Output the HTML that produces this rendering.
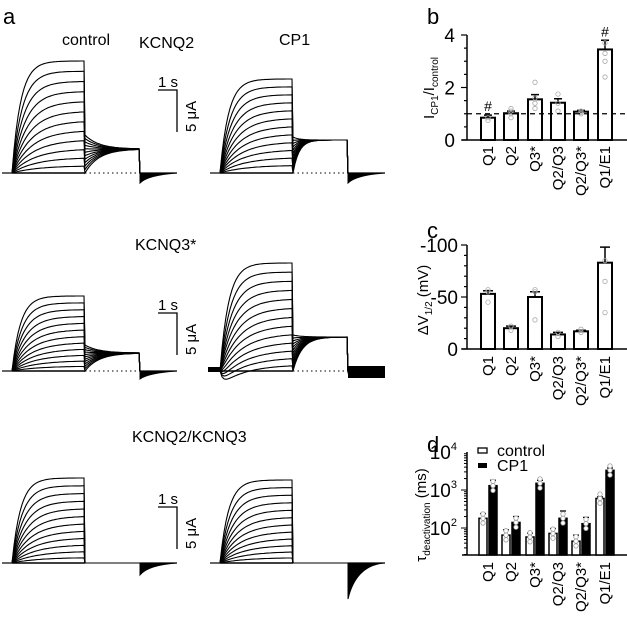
<!DOCTYPE html>
<html><head><meta charset="utf-8"><style>
body{margin:0;background:#fff}
svg{display:block;font-family:"Liberation Sans",sans-serif}
</style></head><body>
<svg id="fig" width="627" height="621" viewBox="0 0 627 621">
<g id="traces"></g>
<g font-size="16" fill="#000">
<text x="3" y="24" font-size="22">a</text>
<text x="62" y="45">control</text>
<text x="139" y="48">KCNQ2</text>
<text x="279" y="45">CP1</text>
<text x="135" y="250">KCNQ3*</text>
<text x="132" y="442">KCNQ2/KCNQ3</text>
<text x="427" y="24" font-size="22">b</text>
<text x="427" y="238" font-size="22">c</text>
<text x="427" y="452" font-size="22">d</text>
</g>
<g id="scalebars"></g>
<g id="pb"></g>
<g id="pc"></g>
<g id="pd"></g>
</svg>
<script>
const categories=["Q1","Q2","Q3*","Q2/Q3","Q2/Q3*","Q1/E1"];
const ratioValues=[0.85,1.02,1.55,1.42,1.08,3.45];
const ratioErr=[0.1,0.08,0.18,0.15,0.05,0.35];
const ratioPoints=[[0.75,0.85],[0.85,1.0,1.1,1.2],[1.2,1.4,1.6,2.2],[1.1,1.4,1.75],[1.0,1.05,1.1],[2.4,3.0,3.3,3.7]];
const ratioTicks=[0,2,4];
const dvValues=[53,20,50,14,17,83];
const dvErr=[3,2,5,2,1,15];
const dvPoints=[[45,55,57],[18,22],[28,55,57],[12,16],[16,19],[35,65,85]];
const dvTicks=[0,-50,-100];
const tauControl=[180,65,58,72,45,600];
const tauCP1=[1300,140,1500,180,130,3300];
const tauCtrlErr=[60,25,15,25,20,60];
const tauCP1Err=[500,60,300,100,60,500];
const tauTickExps=[2,3,4];

const NS="http://www.w3.org/2000/svg";
function mk(p,tag,attrs){const e=document.createElementNS(NS,tag);for(const k in attrs)e.setAttribute(k,attrs[k]);p.appendChild(e);return e;}

/* ---- traces ---- */
const tr=document.getElementById('traces');
function cell(x0,base,amps,tStartMax,tEnd,tailTau,negTail,inward){
  const xs=x0+2,xe=x0+75,xt=x0+130,xa=x0+167;
  const n=amps.length;
  for(let i=0;i<n;i++){
    const A=amps[i];
    const ts=tStartMax*i/(n-1);
    const tau=7+(n-i)*1.6;
    const inw=inward?inward[i]:0;
    let d=`M${x0},${base} L${xs},${base} `;
    for(let x=xs;x<=xe;x+=2){const t=x-xs;d+=`L${x},${(base-A*(1-Math.exp(-t/tau))+inw*Math.exp(-t/25)*(1-Math.exp(-t/3))).toFixed(1)} `;}
    d+=`L${xe},${(base-ts).toFixed(1)} `;
    for(let x=xe;x<=xt;x+=2){const t=x-xe;d+=`L${x},${(base-(tEnd+(ts-tEnd)*Math.exp(-t/tailTau))).toFixed(1)} `;}
    d+=`L${xt},${base}`;
    const p=mk(tr,'path',{d:d,fill:'none',stroke:'#000','stroke-width':'1.1'});
    
    
  }
  mk(tr,'path',{d:`M${xt},${base} L${xt},${base+negTail} Q${xt+8},${base+2} ${xa},${base} Z`,fill:'#000',stroke:'#000','stroke-width':'1'});
  mk(tr,'line',{x1:xt,y1:base,x2:xa,y2:base,stroke:'#000','stroke-width':'1.2'});
  mk(tr,'line',{x1:xe,y1:base,x2:xt,y2:base,stroke:'#000','stroke-width':'1','stroke-dasharray':'1.5,3'});
  mk(tr,'line',{x1:x0-8,y1:base,x2:xs,y2:base,stroke:'#000','stroke-width':'1.2'});
  mk(tr,'line',{x1:xs,y1:base,x2:xe,y2:base,stroke:'#000','stroke-width':'1.5'});
}
function lin(n,max,pow){return Array.from({length:n},(_,i)=>max*Math.pow((i+1)/n,pow));}
cell(10,173,lin(12,112,1.1),38,24,14,10,null);
cell(218,173,lin(12,94,1.0),36,33,6,10,null);
cell(10,371,lin(12,75,1.1),26,18,14,8,null);
cell(218,371,lin(13,108,1.1),36,34,9,2,[14,11,9,7,5,3,2,1,0,0,0,0,0]);
mk(tr,'rect',{x:208,y:367,width:12,height:5,fill:'#000'});
mk(tr,'rect',{x:348,y:366,width:37,height:12,fill:'#000'});
cell(10,563,lin(12,85,1.1),0,0,10,12,null);
cell(218,563,lin(12,83,1.1),0,0,10,36,null);

/* scale bars */
const sb=document.getElementById('scalebars');
[[90],[313],[507]].forEach(([y])=>{
  mk(sb,'path',{d:`M158,${y} L177,${y} L177,${y+42}`,fill:'none',stroke:'#000','stroke-width':'1.3'});
  const t1=mk(sb,'text',{x:158,y:y-3,'font-size':'15'});t1.textContent='1 s';
  const t2=mk(sb,'text',{x:0,y:0,'font-size':'15',transform:`translate(196,${y+42}) rotate(-90)`});t2.textContent='5 μA';
});

/* ---- bar charts ---- */
const xc=[488,511,535,558,581,605];
const bw=14;
function axisLabels(g,yTop){
  categories.forEach((c,i)=>{const t=mk(g,'text',{'font-size':'15','text-anchor':'end',transform:`translate(${xc[i]+5},${yTop}) rotate(-90)`});t.textContent=c;
  });
}
function ylab(g,x,y,html){const t=mk(g,'text',{'font-size':'15','text-anchor':'middle',transform:`translate(${x},${y}) rotate(-90)`});t.innerHTML=html;return t;}

(function(){
 const g=document.getElementById('pb');const y=v=>140-v*(105/4);
 mk(g,'line',{x1:467,y1:y(4),x2:467,y2:140,stroke:'#000','stroke-width':'1.5'});
 mk(g,'line',{x1:462,y1:140,x2:627,y2:140,stroke:'#000','stroke-width':'1.5'});
 for(let v=0;v<=4;v+=0.5)mk(g,'line',{x1:v%2==0?461:464,y1:y(v),x2:467,y2:y(v),stroke:'#000','stroke-width':'1.2'});
 ratioTicks.forEach(v=>{const t=mk(g,'text',{x:455,y:y(v)+7,'font-size':'19','text-anchor':'end'});t.textContent=v;});
 ratioValues.forEach((v,i)=>{
  const r=mk(g,'rect',{x:xc[i]-bw/2,y:y(v),width:bw,height:140-y(v),fill:'#fff',stroke:'#000','stroke-width':'2'});
  
  mk(g,'path',{d:`M${xc[i]},${y(v)} V${y(v+ratioErr[i])} M${xc[i]-4},${y(v+ratioErr[i])} H${xc[i]+4}`,stroke:'#000','stroke-width':'1.5'});
  ratioPoints[i].forEach(p=>mk(g,'circle',{cx:xc[i],cy:y(p),r:2.2,fill:'none',stroke:'#aaa','stroke-width':'0.8'}));
 });
 mk(g,'line',{x1:467,y1:y(1),x2:627,y2:y(1),stroke:'#000','stroke-width':'1.2','stroke-dasharray':'5,4'});
 [[0,ratioValues[0]+ratioErr[0]],[5,ratioValues[5]+ratioErr[5]]].forEach(([i,v])=>{const t=mk(g,'text',{x:xc[i],y:y(v)-4,'font-size':'14','text-anchor':'middle'});t.textContent='#';});
 ylab(g,434,88,'I<tspan font-size="10" dy="4">CP1</tspan><tspan dy="-4">/I</tspan><tspan font-size="10" dy="4">control</tspan>');
 axisLabels(g,146);
})();
(function(){
 const g=document.getElementById('pc');const y=v=>349-v*1.04;
 mk(g,'line',{x1:467,y1:y(100),x2:467,y2:349,stroke:'#000','stroke-width':'1.5'});
 mk(g,'line',{x1:462,y1:349,x2:627,y2:349,stroke:'#000','stroke-width':'1.5'});
 for(let v=0;v<=100;v+=10)mk(g,'line',{x1:v%50==0?461:464,y1:y(v),x2:467,y2:y(v),stroke:'#000','stroke-width':'1.2'});
 dvTicks.forEach(v=>{const t=mk(g,'text',{x:458,y:y(-v)+7,'font-size':'19','text-anchor':'end'});t.textContent=v;});
 dvValues.forEach((v,i)=>{
  const r=mk(g,'rect',{x:xc[i]-bw/2,y:y(v),width:bw,height:349-y(v),fill:'#fff',stroke:'#000','stroke-width':'2'});
  
  mk(g,'path',{d:`M${xc[i]},${y(v)} V${y(v+dvErr[i])} M${xc[i]-5},${y(v+dvErr[i])} H${xc[i]+5}`,stroke:'#000','stroke-width':'1.5'});
  dvPoints[i].forEach(p=>mk(g,'circle',{cx:xc[i],cy:y(p),r:2.2,fill:'none',stroke:'#aaa','stroke-width':'0.8'}));
 });
 ylab(g,428,300,'ΔV<tspan font-size="10" dy="4">1/2</tspan><tspan dy="-4"> (mV)</tspan>');
 axisLabels(g,356);
})();
(function(){
 const g=document.getElementById('pd');const y=v=>528-(Math.log10(v)-2)*38;const y0=555;
 mk(g,'line',{x1:467,y1:y(10000),x2:467,y2:y0,stroke:'#000','stroke-width':'1.5'});
 mk(g,'line',{x1:462,y1:y0,x2:627,y2:y0,stroke:'#000','stroke-width':'1.5'});
 for(let e=1;e<=3;e++)for(let m=1;m<10;m++){const v=m*Math.pow(10,e);if(y(v)>y0)continue;mk(g,'line',{x1:m==1?461:464,y1:y(v),x2:467,y2:y(v),stroke:'#000','stroke-width':'1'});}
 tauTickExps.forEach(e=>{const t=mk(g,'text',{x:457,y:y(Math.pow(10,e))+7,'font-size':'19','text-anchor':'end'});t.innerHTML='10<tspan font-size="11" dy="-9">'+e+'</tspan>';});
 const w=8;
 categories.forEach((c,i)=>{
  [[tauControl,tauCtrlErr,'#fff',-5],[tauCP1,tauCP1Err,'#000',5]].forEach(([arr,err,f,dx],k)=>{
   const v=arr[i],cx=xc[i]+dx;
   const r=mk(g,'rect',{x:cx-w/2,y:y(v),width:w,height:y0-y(v),fill:f,stroke:'#000','stroke-width':'1.5'});
   
   mk(g,'path',{d:`M${cx},${y(v)} V${y(v+err[i])} M${cx-3},${y(v+err[i])} H${cx+3}`,stroke:'#000','stroke-width':'1.3'});
   [0.75,1,1.3].forEach(m=>mk(g,'circle',{cx:cx,cy:y(v*m),r:2.2,fill:'#fff',stroke:'#999','stroke-width':'0.8'}));
  });
 });
 mk(g,'rect',{x:478,y:448,width:9,height:5,fill:'#fff',stroke:'#000','stroke-width':'1.3'});
 mk(g,'rect',{x:478,y:463,width:9,height:5,fill:'#000'});
 const l1=mk(g,'text',{x:497,y:456,'font-size':'16'});l1.textContent='control';
 const l2=mk(g,'text',{x:497,y:471,'font-size':'16'});l2.textContent='CP1';
 ylab(g,426,515,'τ<tspan font-size="10" dy="4">deactivation</tspan><tspan dy="-4"> (ms)</tspan>');
 axisLabels(g,562);
})();
</script>
</body></html>
